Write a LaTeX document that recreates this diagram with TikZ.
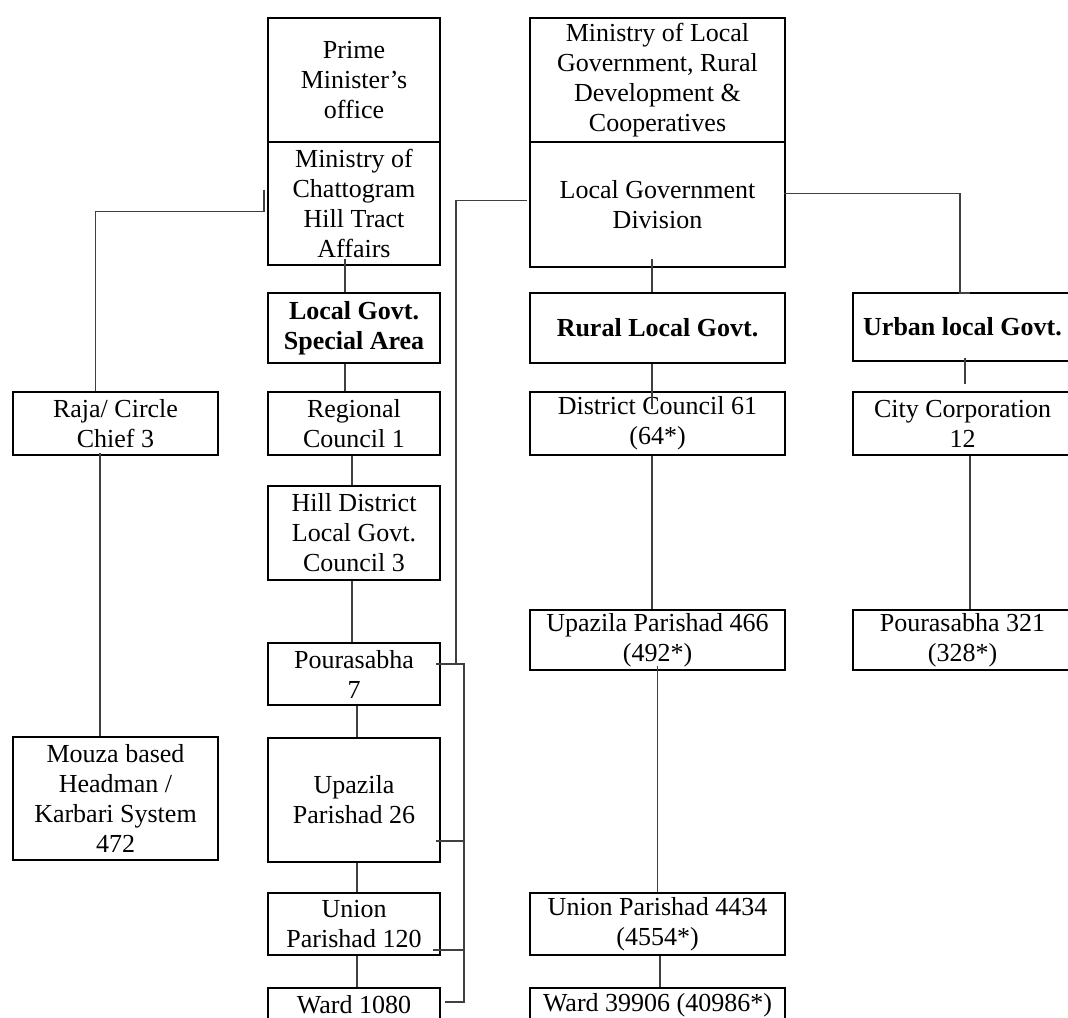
\documentclass[tikz,border=0pt]{standalone}
\usepackage{fontspec}
\setmainfont{Liberation Serif}
\usepackage{tikz}
\usetikzlibrary{positioning, calc}

\begin{document}
\begin{tikzpicture}[x=0.5pt,y=-0.5pt,
    box/.style={draw, line width=1pt, align=center, inner sep=0pt, font=\fontsize{13}{15}\selectfont},
    link/.style={line width=0.6pt, black!75}]
    \useasboundingbox (0,0) rectangle (1068,1017);
    % left column
    \node[box, minimum width=86pt, minimum height=62pt] (pmo) at (354,80) {Prime\\Minister's\\office};
    \node[box, minimum width=86pt, minimum height=61.5pt] (mocht) at (354,203.5) {Ministry of\\Chattogram\\Hill Tract\\Affairs};
    \node[box, minimum width=86pt, minimum height=35pt] (special) at (354,328) {\textbf{Local Govt.}\\\textbf{Special Area}};
    \node[box, minimum width=86pt, minimum height=31.5pt] (regional) at (354,423.5) {Regional\\Council 1};
    \node[box, minimum width=86pt, minimum height=47pt] (hill) at (354,533) {Hill District\\Local Govt.\\Council 3};
    \node[box, minimum width=86pt, minimum height=31pt] (pou7) at (354,674) {Pourasabha\\7};
    \node[box, minimum width=86pt, minimum height=62pt] (upz26) at (354,800) {Upazila\\Parishad 26};
    \node[box, minimum width=86pt, minimum height=31pt] (union120) at (354,924) {Union\\Parishad 120};
    \node[box, minimum width=86pt, minimum height=17pt] (ward1080) at (354,1005) {Ward 1080};
    % circle chiefs
    \node[box, minimum width=102.5pt, minimum height=31.5pt] (raja) at (115.5,423.5) {Raja/ Circle\\Chief 3};
    \node[box, minimum width=102.5pt, minimum height=61.5pt] (mouza) at (115.5,798.5) {Mouza based\\Headman /\\Karbari System\\472};
    % ministry of local government
    \node[box, minimum width=127.5pt, minimum height=62pt] (molg) at (657.5,80) {Ministry of Local\\Government, Rural\\Development \&\\Cooperatives};
    \node[box, minimum width=127.5pt, minimum height=62.5pt] (lgd) at (657.5,204.5) {Local Government\\Division};
    \node[box, minimum width=127.5pt, minimum height=35pt] (rural) at (657.5,328) {\textbf{Rural Local Govt.}};
    \node[box, minimum width=127.5pt, minimum height=31.5pt] (district) at (657.5,423.5) {District Council 61\\(64*)};
    \node[box, minimum width=127.5pt, minimum height=30pt] (upz466) at (657.5,640) {Upazila Parishad 466\\(492*)};
    \node[box, minimum width=127.5pt, minimum height=31pt] (union4434) at (657.5,924) {Union Parishad 4434\\(4554*)};
    \node[box, minimum width=127.5pt, minimum height=17pt] (ward39906) at (657.5,1005) {Ward 39906 (40986*)};
    % urban
    \node[box, minimum width=109.5pt, minimum height=34pt] (urban) at (962.5,327) {\textbf{Urban local Govt.}};
    \node[box, minimum width=109.5pt, minimum height=31.5pt] (city) at (962.5,423.5) {City Corporation\\12};
    \node[box, minimum width=109.5pt, minimum height=30pt] (pou321) at (962.5,640) {Pourasabha 321\\(328*)};

    % special area chain
    \draw[link] ([xshift=-4.5pt,yshift=3.5pt]mocht.south) -- ([xshift=-4.5pt]special.north);
    \draw[link] ([xshift=-4.5pt]special.south) -- ([xshift=-4.5pt]regional.north);
    \draw[link] ([xshift=-1pt]regional.south) -- ([xshift=-1pt]hill.north);
    \draw[link] ([xshift=-1pt]hill.south) -- ([xshift=-1pt]pou7.north);
    \draw[link] ([xshift=1.5pt]pou7.south) -- ([xshift=1.5pt]upz26.north);
    \draw[link] ([xshift=1.5pt]upz26.south) -- ([xshift=1.5pt]union120.north);
    \draw[link] ([xshift=1.5pt]union120.south) -- ([xshift=1.5pt]ward1080.north);
    % circle chiefs
    \draw[link] ([xshift=-1.5pt,yshift=7pt]mocht.west) -- ([xshift=-1.5pt,yshift=-4pt]mocht.west) -| ([xshift=-10pt]raja.north);
    \draw[link] ([xshift=-7.75pt,yshift=1.5pt]raja.south) -- ([xshift=-7.75pt]mouza.north);
    % rural chain
    \draw[link] ([xshift=-2.75pt,yshift=4.5pt]lgd.south) -- ([xshift=-2.75pt]rural.north);
    \draw[link] ([xshift=-2.75pt]rural.south) -- ([xshift=-2.75pt,yshift=-9pt]district.north);
    \draw[link] ([xshift=-2.75pt]district.south) -- ([xshift=-2.75pt]upz466.north);
    \draw[link] ([yshift=2.5pt]upz466.south) -- (union4434.north);
    \draw[link] ([xshift=1.25pt]union4434.south) -- ([xshift=1.25pt]ward39906.north);
    % urban chain
    \draw[link] ([xshift=-1pt,yshift=5.5pt]lgd.east) -| ([xshift=-1.25pt,yshift=-0.5pt]urban.north) -- ++(10,0);
    \draw[link] ([xshift=1.25pt,yshift=2pt]urban.south) -- ([xshift=1.25pt,yshift=3.5pt]city.north);
    \draw[link] ([xshift=3.75pt]city.south) -- ([xshift=3.75pt]pou321.north);
    % division to pourasabha bracket
    \draw[link] ([xshift=-1pt,yshift=2pt]lgd.west) -| ([xshift=7.5pt,yshift=5.5pt]pou7.east);
    \draw[link] ([xshift=-2.5pt,yshift=5pt]pou7.east) -- ++(28,0) |- ([xshift=2pt,yshift=1.5pt]ward1080.east);
    \draw[link] ([xshift=-2.5pt,yshift=-20.5pt]upz26.east) -- ++(28,0);
    \draw[link] ([xshift=-4pt,yshift=-13pt]union120.east) -- ++(31,0);
\end{tikzpicture}
\end{document}
